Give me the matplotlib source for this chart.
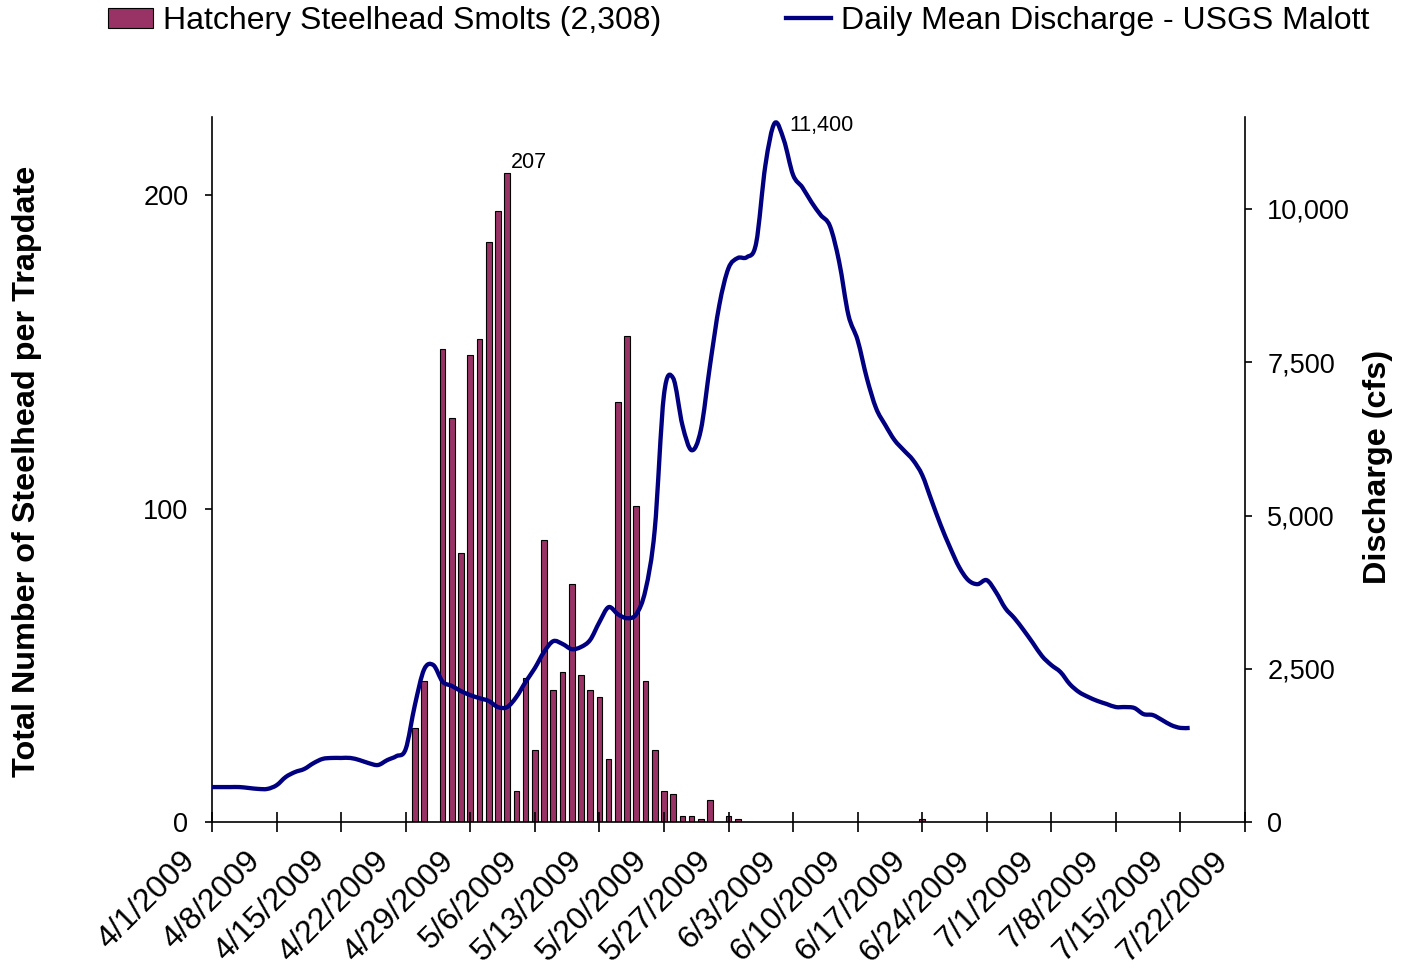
"""
Hatchery steelhead smolts per trap date with daily mean discharge (USGS Malott), 2009
"""
import datetime as dt

import numpy as np
import matplotlib
matplotlib.use("Agg")
import matplotlib.pyplot as plt
import matplotlib.dates as mdates
import matplotlib.transforms as mtransforms
from matplotlib.lines import Line2D
from matplotlib.path import Path
from matplotlib.patches import PathPatch
from matplotlib.ticker import FuncFormatter

plt.rcParams['font.family'] = ['Liberation Sans', 'DejaVu Sans']

# daily mean discharge (cfs), starting 4/1/2009
flow_start = dt.date(2009, 4, 1)
discharge_cfs = [
    570, 570, 570, 570, 555, 540, 540, 600, 735, 815,
    865, 960, 1030, 1045, 1045, 1045, 1010, 960, 930, 1010,
    1075, 1190, 1910, 2490, 2560, 2290, 2220, 2135, 2070, 2020,
    1975, 1875, 1875, 2040, 2285, 2510, 2775, 2950, 2905, 2820,
    2855, 2970, 3260, 3505, 3390, 3325, 3390, 3785, 4765, 6965,
    7240, 6475, 6065, 6395, 7455, 8430, 9035, 9200, 9215, 9445,
    10715, 11400, 11125, 10555, 10355, 10110, 9900, 9720, 9135, 8270,
    7860, 7240, 6750, 6475, 6230, 6065, 5905, 5660, 5250, 4845,
    4485, 4160, 3945, 3880, 3945, 3750, 3490, 3325, 3130, 2920,
    2705, 2560, 2445, 2250, 2120, 2040, 1975, 1925, 1875, 1875,
    1860, 1760, 1745, 1665, 1580, 1535, 1535,
]

# hatchery steelhead smolts per trap date
smolt_dates = [
    "4/23", "4/24", "4/25", "4/26", "4/27", "4/28", "4/29", "4/30",
    "5/1", "5/2", "5/3", "5/4", "5/5", "5/6", "5/7", "5/8", "5/9",
    "5/10", "5/11", "5/12", "5/13", "5/14", "5/15", "5/16", "5/17",
    "5/18", "5/19", "5/20", "5/21", "5/22", "5/23", "5/24", "5/25",
    "5/26", "5/27", "5/28", "6/17",
]
smolt_counts = [
    30, 45, 0, 151, 129, 86, 149, 154,
    185, 195, 207, 10, 46, 23, 90, 42, 48,
    76, 47, 42, 40, 20, 134, 155, 101,
    45, 23, 10, 9, 2, 2, 1, 7,
    0, 2, 1, 1,
]

x_end = dt.date(2009, 7, 22)
navy = '#000080'
plum = '#993366'


def to_date(md):
    m, d = md.split('/')
    return dt.date(2009, int(m), int(d))


def smooth_path(xs, ys):
    """Bezier path through the points (Excel-style smoothed line)"""
    verts = [(xs[0], ys[0])]
    codes = [Path.MOVETO]
    n = len(xs)
    for i in range(n - 1):
        p0 = i - 1 if i > 0 else i
        p3 = i + 2 if i + 2 < n else i + 1
        c1 = (xs[i] + (xs[i + 1] - xs[p0]) / 6, ys[i] + (ys[i + 1] - ys[p0]) / 6)
        c2 = (xs[i + 1] - (xs[p3] - xs[i]) / 6, ys[i + 1] - (ys[p3] - ys[i]) / 6)
        verts += [c1, c2, (xs[i + 1], ys[i + 1])]
        codes += [Path.CURVE4] * 3
    return Path(verts, codes)


flow_dates = [flow_start + dt.timedelta(days=i) for i in range(len(discharge_cfs))]
bar_dates = [to_date(s) for s in smolt_dates]
tick_dates = [flow_start + dt.timedelta(days=7 * k) for k in range(17)]

fig = plt.figure(figsize=(14.03, 9.72), dpi=100)
ax = fig.add_axes([0.1511, 0.1543, 0.7363, 0.7253])
ax2 = ax.twinx()

bars = ax.bar(bar_dates, smolt_counts, width=0.62, color=plum,
              edgecolor='black', linewidth=0.8)

flow_path = smooth_path(mdates.date2num(flow_dates), np.array(discharge_cfs, dtype=float))
ax2.add_patch(PathPatch(flow_path, fill=False, edgecolor=navy, lw=3.1,
                        joinstyle='round', capstyle='butt'))

ax.set_xlim(flow_start, x_end)
ax.set_ylim(0, 225)
ax2.set_ylim(0, 11500)

ax.set_yticks([0, 100, 200])
ax2.set_yticks([0, 2500, 5000, 7500, 10000])
ax2.yaxis.set_major_formatter(FuncFormatter(lambda v, p: f"{int(v):,}"))

ax.set_xticks(tick_dates)
ax.set_xticklabels([f"{d.month}/{d.day}/{d.year}" for d in tick_dates])

for a in (ax, ax2):
    for s in a.spines.values():
        s.set_linewidth(1.2)
    a.spines['top'].set_visible(False)
ax.spines['right'].set_visible(False)
ax2.spines['left'].set_visible(False)
ax2.spines['bottom'].set_visible(False)

ax.tick_params(axis='x', direction='inout', length=14, width=1.2, labelsize=23, pad=10.0)
ax.tick_params(axis='y', direction='out', length=5, width=1.2, labelsize=19.5, pad=12)
ax2.tick_params(axis='y', direction='out', length=5, width=1.2, labelsize=19.5, pad=11)

shift = mtransforms.ScaledTranslation(-0.32, 0, fig.dpi_scale_trans)
for lbl in ax.get_xticklabels():
    lbl.set_rotation(45)
    lbl.set_ha('right')
    lbl.set_va('top')
    lbl.set_rotation_mode('anchor')
    lbl.set_transform(lbl.get_transform() + shift)

ax.set_ylabel('Total Number of Steelhead per Trapdate', fontsize=23.3, fontweight='bold')
ax.yaxis.set_label_coords(-0.1646, 0.497)
ax2.set_ylabel('Discharge (cfs)', fontsize=23.3, fontweight='bold')
ax2.yaxis.set_label_coords(1.114, 0.503)

# peak labels
ax.annotate("207", xy=(to_date("5/3"), 207), xytext=(2.9, 7.7), textcoords='offset points',
            ha='left', va='center', fontsize=15.5)
ax2.annotate("11,400", xy=(to_date("6/1"), 11400), xytext=(10.8, -1.4), textcoords='offset points',
             ha='left', va='center', fontsize=15.5)

line_handle = Line2D([], [], color=navy, lw=3.1)
fig.legend([bars, line_handle],
           ['Hatchery Steelhead Smolts (2,308)', 'Daily Mean Discharge - USGS Malott'],
           loc='center left', bbox_to_anchor=(108 / 1403, 1 - 21 / 972), ncol=2,
           frameon=False, fontsize=23, handlelength=1.41, handleheight=0.58,
           handletextpad=0.31, columnspacing=3.92, borderpad=0, borderaxespad=0)

fig.savefig('out.png', dpi=100)
